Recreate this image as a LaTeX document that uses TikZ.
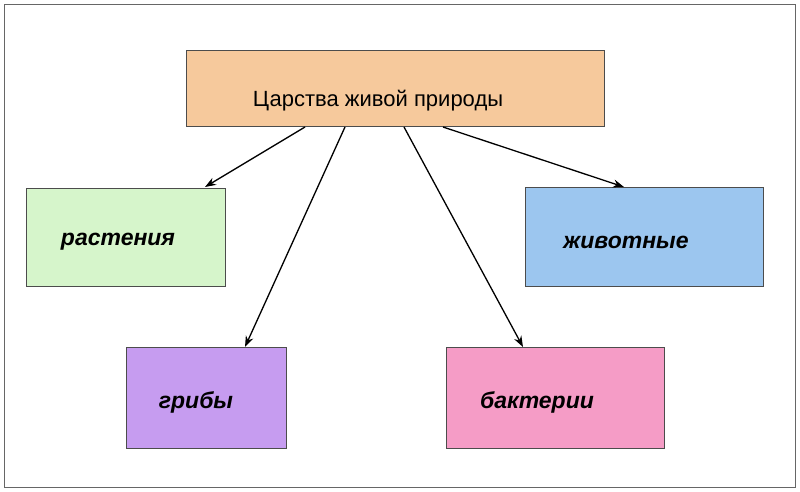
\documentclass[tikz,border=0pt]{standalone}
\usepackage{fontspec}
\setmainfont{Liberation Sans}
\usetikzlibrary{arrows.meta}
\begin{document}
\begin{tikzpicture}[x=1pt,y=-1pt,
  box/.style={draw=black!70,line width=0.8pt,anchor=north west,inner sep=0pt},
  lbl/.style={font=\fontsize{23}{26}\selectfont\bfseries\itshape},
  arr/.style={-{Stealth[length=11pt,width=8pt]},line width=1.3pt}]
\useasboundingbox (0,0) rectangle (800,492);
\draw[black!60,line width=0.8pt] (4,4) rectangle (795,487);
\node[box,fill={rgb,255:red,246;green,201;blue,156},minimum width=418pt,minimum height=76pt] (top) at (186,50) {};
\node[font=\fontsize{22}{25}\selectfont] (tt) at (378,101) {Царства живой природы};
\node[box,fill={rgb,255:red,214;green,245;blue,203},minimum width=199pt,minimum height=98pt] (r) at (26,188) {};
\node[lbl] at (118,242) {растения};
\node[box,fill={rgb,255:red,156;green,198;blue,239},minimum width=238pt,minimum height=99pt] (z) at (525,187) {};
\node[lbl] at (626,242) {животные};
\node[box,fill={rgb,255:red,198;green,156;blue,240},minimum width=160pt,minimum height=101pt] (g) at (126,347) {};
\node[lbl] at (196,402) {грибы};
\node[box,fill={rgb,255:red,245;green,156;blue,198},minimum width=218pt,minimum height=101pt] (b) at (446,347) {};
\node[lbl] at (537,402) {бактерии};
\coordinate (s1) at (305,127);
\coordinate (s2) at (345,127);
\coordinate (s3) at (404,127);
\coordinate (s4) at (443,127);
\coordinate (e1) at (205,187);
\coordinate (e2) at (245,347);
\coordinate (e3) at (523,347);
\coordinate (e4) at (624,187);
\draw[arr] (s1) -- (e1);
\draw[arr] (s2) -- (e2);
\draw[arr] (s3) -- (e3);
\draw[arr] (s4) -- (e4);
\end{tikzpicture}
\end{document}
